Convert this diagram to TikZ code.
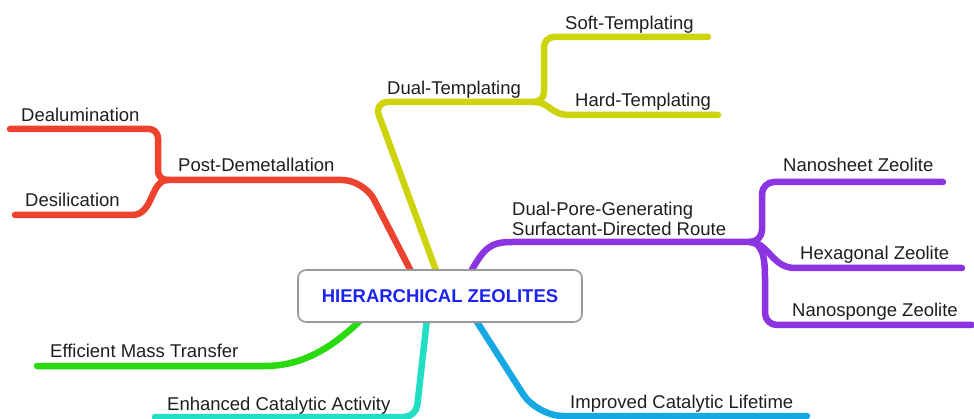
\documentclass[tikz,border=0pt]{standalone}
\usepackage{fontspec}
\setmainfont{Liberation Sans}
\usetikzlibrary{backgrounds}

\definecolor{brred}{RGB}{236,66,46}
\definecolor{bryellow}{RGB}{206,212,12}
\definecolor{brpurple}{RGB}{138,52,226}
\definecolor{brgreen}{RGB}{40,218,14}
\definecolor{brteal}{RGB}{34,222,196}
\definecolor{brblue}{RGB}{22,168,226}
\definecolor{hubtext}{RGB}{28,36,240}
\definecolor{labeltext}{RGB}{30,30,30}

\tikzstyle{hub}=[rectangle,
    rounded corners=8pt,
    line width=1.6pt,
    draw=gray!80,
    fill=white,
    minimum width=284pt,
    minimum height=52pt,
    text=hubtext,
    font=\fontsize{18.5}{21}\selectfont\bfseries]
\tikzstyle{leaf}=[inner sep=0pt,
    text=labeltext,
    font=\fontsize{18.5}{20.5}\selectfont]
\tikzstyle{branch}=[line width=6.5pt,
    line cap=round,
    line join=round]

\begin{document}
\begin{tikzpicture}[x=1pt,y=-1pt]
            \useasboundingbox (0,0) rectangle (974,419);
            \node (hub) [hub] at (440,296) {HIERARCHICAL ZEOLITES};

            \node (dealum) [leaf,anchor=base west] at (21,122) {Dealumination};
            \node (desil) [leaf,anchor=base west] at (25,207) {Desilication};
            \node (postdemet) [leaf,anchor=base west] at (178,172) {Post-Demetallation};
            \node (dualtemp) [leaf,anchor=base west] at (387,95) {Dual-Templating};
            \node (softtemp) [leaf,anchor=base west] at (565,30) {Soft-Templating};
            \node (hardtemp) [leaf,anchor=base west] at (575,107) {Hard-Templating};
            \node (dualpore) [leaf,anchor=south west,align=left] at (512,236) {Dual-Pore-Generating\\Surfactant-Directed Route};
            \node (nanosheet) [leaf,anchor=base west] at (783,172) {Nanosheet Zeolite};
            \node (hexagonal) [leaf,anchor=base west] at (800,260) {Hexagonal Zeolite};
            \node (nanosponge) [leaf,anchor=base west] at (792,317) {Nanosponge Zeolite};
            \node (masstrans) [leaf,anchor=base west] at (50,358) {Efficient Mass Transfer};
            \node (catact) [leaf,anchor=base west] at (167,410) {Enhanced Catalytic Activity};
            \node (catlife) [leaf,anchor=base west] at (570,408) {Improved Catalytic Lifetime};

            \coordinate (postj) at (168,180);
            \coordinate (dealend) at (10,129);
            \coordinate (desilend) at (15,215);
            \coordinate (dualj) at (534,102);
            \coordinate (softend) at (708,37);
            \coordinate (hardend) at (718,115);
            \coordinate (porej) at (750,242);
            \coordinate (sheetend) at (943,182);
            \coordinate (hexend) at (962,268);
            \coordinate (spongeend) at (972,325);
            \coordinate (massend) at (37,366);
            \coordinate (actend) at (155,417);
            \coordinate (lifeend) at (807,416);

            \begin{scope}[on background layer]
            \draw [branch,brred,rounded corners=22pt] ([xshift=-28pt,yshift=-4pt]hub.north) -- (364,180) -- (postj);
            \draw [branch,brred,rounded corners=9pt] (postj) -- (158,180) -- (158,129) -- (dealend);
            \draw [branch,brred] (postj) .. controls (150,180) and (154,215) .. (132,215) -- (desilend);

            \draw [branch,bryellow,rounded corners=14pt] ([xshift=-3pt,yshift=-4pt]hub.north) -- (374,102) -- (dualj);
            \draw [branch,bryellow,rounded corners=10pt] (dualj) -- (544,102) -- (544,37) -- (softend);
            \draw [branch,bryellow] (dualj) .. controls (550,102) and (550,115) .. (570,115) -- (hardend);

            \draw [branch,brpurple] ([xshift=30pt,yshift=-4pt]hub.north) .. controls (484,248) and (490,242) .. (512,242) -- (porej);
            \draw [branch,brpurple,rounded corners=12pt] (porej) -- (762,242) -- (762,182) -- (sheetend);
            \draw [branch,brpurple] (porej) .. controls (768,242) and (772,268) .. (795,268) -- (hexend);
            \draw [branch,brpurple] (porej) .. controls (762,243) and (765,256) .. (765,278) [rounded corners=12pt] -- (765,325) -- (spongeend);

            \draw [branch,brgreen] ([xshift=-78pt,yshift=4pt]hub.south) .. controls (335,345) and (305,366) .. (265,366) -- (massend);
            \draw [branch,brteal,rounded corners=12pt] ([xshift=-13pt,yshift=4pt]hub.south) -- (416,417) -- (actend);
            \draw [branch,brblue,rounded corners=26pt] ([xshift=35pt,yshift=4pt]hub.south) -- (537,416) -- (lifeend);
            \end{scope}

        \end{tikzpicture}
\end{document}
